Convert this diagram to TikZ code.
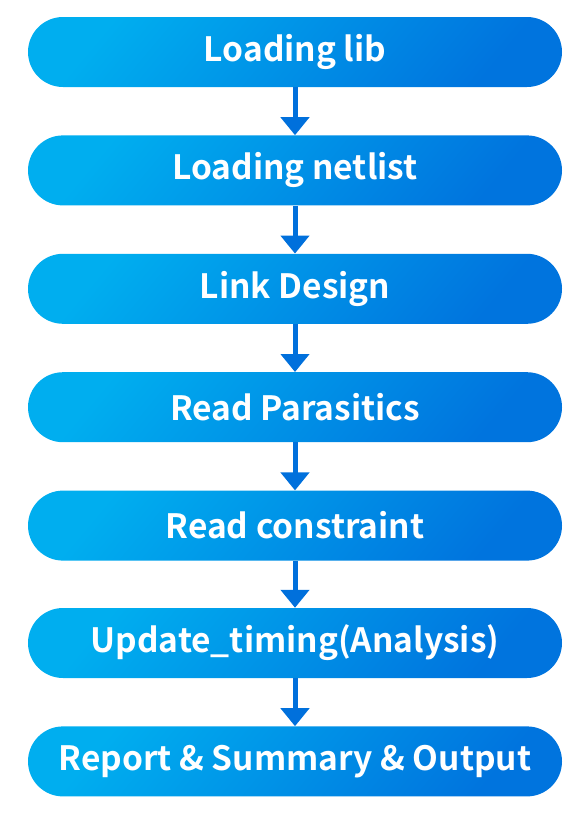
\documentclass[tikz,border=0pt]{standalone}
\usepackage{fontspec}
\newfontfamily\stagefont{Noto Sans CJK SC}[BoldFont={Noto Sans CJK SC Bold}]
\usetikzlibrary{arrows.meta,positioning}
\definecolor{boxlight}{RGB}{0,174,239}
\definecolor{boxdark}{RGB}{0,116,222}
\definecolor{arrowblue}{RGB}{0,112,220}

\tikzset{
  stage/.style={shade, left color=boxlight, right color=boxdark, shading angle=50,
    rounded corners=35pt, minimum width=534pt, minimum height=70pt,
    inner sep=0pt, text=white, font=\stagefont\fontsize{33.5}{38}\selectfont\bfseries},
  flow/.style={-{Triangle[width=28pt,length=18pt]}, line width=5pt, arrowblue}
}

\begin{document}
\begin{tikzpicture}[x=1pt, y=1pt]
    \useasboundingbox (0,0) rectangle (580,-822);

    \node[stage] (lib) at (295,-52) {Loading lib};
    \node[stage, below=48pt of lib] (netlist) {Loading netlist};
    \node[stage, below=48pt of netlist] (link) {Link Design};
    \node[stage, below=48pt of link] (para) {Read Parasitics};
    \node[stage, below=48pt of para] (sdc) {Read constraint};
    \node[stage, below=47pt of sdc] (timing) {Update\_timing(Analysis)};
    \node[stage, below=48pt of timing] (report) {Report \& Summary \& Output};

    \draw[flow] (lib) -- (netlist);
    \draw[flow] (netlist) -- (link);
    \draw[flow] (link) -- (para);
    \draw[flow] (para) -- (sdc);
    \draw[flow] (sdc) -- (timing);
    \draw[flow] (timing) -- (report);
\end{tikzpicture}
\end{document}
